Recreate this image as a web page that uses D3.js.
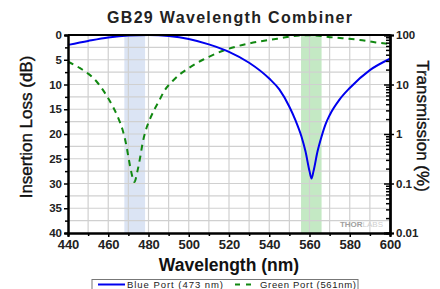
<!DOCTYPE html>
<html>
<head>
<meta charset="utf-8">
<script src="https://cdn.jsdelivr.net/npm/d3@7"></script>
<style>
  body { margin: 0; background: #fff; }
  svg { display: block; font-family: "Liberation Sans", Arial, sans-serif; }
</style>
</head>
<body>
<svg id="chart"></svg>
<script>
// data
const blueWl   = [440, 450, 460, 470, 480, 490, 500, 510, 520, 530, 540, 545, 550, 553, 556, 558, 560, 561, 562, 564, 566, 568, 570, 575, 580, 590, 600];
const blueLoss = [2.0, 1.2, 0.5, 0.1, 0, 0.2, 0.8, 1.9, 3.4, 5.6, 8.8, 11, 14.5, 17.2, 20.5, 23.5, 27.5, 29, 27.5, 23.5, 20.5, 18, 16.2, 13, 10.7, 7.1, 4.8];
const greenWl   = [440, 446, 450, 454, 458, 461, 465, 467, 469, 470, 471.5, 473, 474.5, 476, 477, 479, 480.5, 483, 485, 488, 492, 496, 500, 507, 510, 519, 530, 544, 555, 560, 572, 585, 593, 600];
const greenLoss = [5.4, 6.7, 7.8, 9.3, 11.5, 13.5, 16.8, 19, 22.3, 24.6, 27.8, 29.7, 27.5, 24.4, 22, 18.8, 17.2, 15, 13.5, 11.2, 9.3, 7.8, 6.7, 5, 4.4, 2.9, 1.7, 0.75, 0.1, 0.05, 0.5, 1.0, 1.5, 1.8];
const bands = [[468, 478.3, "#dbe4f4"], [555.8, 566, "#c4e9c4"]];
const xTicks = [440, 460, 480, 500, 520, 540, 560, 580, 600];
const yTicks = [0, 5, 10, 15, 20, 25, 30, 35, 40];
const rTicks = [100, 10, 1, 0.1, 0.01];
const rLabels = ["100", "10", "1", "0.1", "0.01"];

const W = 440, H = 289;
const m = { left: 68, right: 50, top: 35, bottom: 56 };
const iw = W - m.left - m.right, ih = H - m.top - m.bottom;

const svg = d3.select("#chart").attr("width", W).attr("height", H);
const g = svg.append("g").attr("transform", `translate(${m.left},${m.top})`);

const x = d3.scaleLinear().domain([440, 600]).range([0, iw]);
const y = d3.scaleLinear().domain([0, 40]).range([0, ih]);
const yR = d3.scaleLog().domain([0.01, 100]).range([ih, 0]);

// shaded port bands
g.selectAll(".band").data(bands).enter().append("rect")
  .attr("x", d => x(d[0])).attr("width", d => x(d[1]) - x(d[0]))
  .attr("y", 0).attr("height", ih).attr("fill", d => d[2]);

// grid
g.selectAll(".vgrid").data(d3.range(450, 600, 10)).enter().append("line")
  .attr("x1", d => x(d)).attr("x2", d => x(d)).attr("y1", 0).attr("y2", ih)
  .attr("stroke", "#d0d0d0").attr("stroke-width", 1.2);
g.selectAll(".hgrid").data(d3.range(2.5, 40, 2.5)).enter().append("line")
  .attr("y1", d => y(d)).attr("y2", d => y(d)).attr("x1", 0).attr("x2", iw)
  .attr("stroke", "#d0d0d0").attr("stroke-width", 1.2);

// THORLABS mark
const logo = g.append("text").attr("x", iw - 50).attr("y", ih - 6)
  .attr("textLength", 43).style("font-size", "8px").style("font-weight", "bold");
logo.append("tspan").attr("fill", "#a0a0a0").text("THOR");
logo.append("tspan").attr("fill", "#cfcfcf").style("font-weight", "normal").text("LABS");

// curves
const line = d3.line().curve(d3.curveMonotoneX)
  .x(d => x(d[0])).y(d => y(d[1]));
g.append("path").datum(d3.zip(greenWl, greenLoss)).attr("d", line)
  .attr("fill", "none").attr("stroke", "#118811").attr("stroke-width", 2)
  .attr("stroke-dasharray", "6 5");
g.append("path").datum(d3.zip(blueWl, blueLoss)).attr("d", line)
  .attr("fill", "none").attr("stroke", "#0000ee").attr("stroke-width", 2);

// axes
const xAxis = g.append("g").attr("transform", `translate(0,${ih})`)
  .call(d3.axisBottom(x).tickValues(xTicks).tickSize(4).tickPadding(3).tickFormat(d3.format("d")));
g.append("g").attr("transform", `translate(0,${ih})`)
  .call(d3.axisBottom(x).tickValues(d3.range(450, 600, 20)).tickSize(3).tickFormat(""));
const yAxis = g.append("g")
  .call(d3.axisLeft(y).tickValues(yTicks).tickSize(4).tickPadding(2));
g.append("g").call(d3.axisLeft(y).tickValues(d3.range(2.5, 40, 5)).tickSize(3).tickFormat(""));
const rAxis = g.append("g").attr("transform", `translate(${iw},0)`)
  .call(d3.axisRight(yR).tickValues(rTicks).tickSize(4).tickPadding(2).tickFormat((d, i) => rLabels[i]));
const minor = [];
rTicks.slice(1).forEach(dec => { for (let k = 2; k <= 9; k++) minor.push(dec * k); });
g.append("g").attr("transform", `translate(${iw},0)`)
  .call(d3.axisLeft(yR).tickValues(minor).tickSize(4).tickFormat(""));
g.append("g").attr("transform", `translate(${iw},0)`)
  .call(d3.axisLeft(yR).tickValues(rTicks).tickSize(6).tickFormat(""));

g.selectAll(".domain").attr("stroke", "#000").attr("stroke-width", 2);
g.selectAll(".tick line").attr("stroke", "#000").attr("stroke-width", 1.5);
g.selectAll(".tick text").attr("fill", "#222").style("font-weight", "bold");
xAxis.selectAll("text").style("font-size", "13px");
yAxis.selectAll("text").style("font-size", "11.5px");
rAxis.selectAll("text").style("font-size", "11.5px");
// top frame
g.append("line").attr("x1", 0).attr("x2", iw).attr("y1", 0).attr("y2", 0)
  .attr("stroke", "#000").attr("stroke-width", 2);

// titles
svg.append("text").attr("x", 107).attr("y", 23)
  .attr("textLength", 245).attr("lengthAdjust", "spacing")
  .style("font-size", "16px").style("font-weight", "bold").attr("fill", "#222")
  .text("GB29 Wavelength Combiner");
svg.append("text").attr("x", 229).attr("y", 271).attr("text-anchor", "middle")
  .style("font-size", "17.5px").style("font-weight", "bold").attr("fill", "#111")
  .text("Wavelength (nm)");
svg.append("text").attr("transform", "translate(32,127) rotate(-90)").attr("text-anchor", "middle")
  .style("font-size", "17px").attr("fill", "#111").attr("stroke", "#111").attr("stroke-width", 0.4)
  .text("Insertion Loss (dB)");
svg.append("text").attr("transform", "translate(417,126) rotate(90)").attr("text-anchor", "middle")
  .style("font-size", "17px").attr("fill", "#111").attr("stroke", "#111").attr("stroke-width", 0.4)
  .text("Transmission (%)");

// legend
const lg = svg.append("g");
lg.append("rect").attr("x", 92).attr("y", 279.5).attr("width", 266).attr("height", 14)
  .attr("fill", "#fff").attr("stroke", "#777").attr("stroke-width", 1);
lg.append("line").attr("x1", 98).attr("x2", 125).attr("y1", 284.5).attr("y2", 284.5)
  .attr("stroke", "#0000ee").attr("stroke-width", 2);
lg.append("text").attr("x", 127).attr("y", 287.5).attr("textLength", 96)
  .style("font-size", "9.5px").attr("fill", "#222").text("Blue Port (473 nm)");
lg.append("line").attr("x1", 235).attr("x2", 256).attr("y1", 284.5).attr("y2", 284.5)
  .attr("stroke", "#118811").attr("stroke-width", 2).attr("stroke-dasharray", "5 6");
lg.append("text").attr("x", 260).attr("y", 287.5).attr("textLength", 96)
  .style("font-size", "9.5px").attr("fill", "#222").text("Green Port (561nm)");
</script>
</body>
</html>
